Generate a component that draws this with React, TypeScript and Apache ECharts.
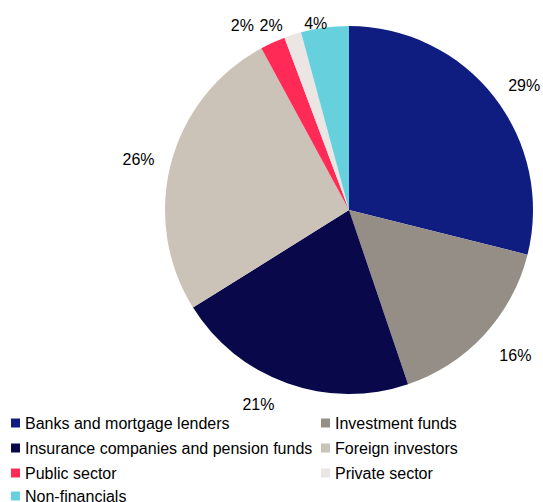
import React, { useEffect, useRef } from "react";
import * as echarts from "echarts";

const categories = [
  "Banks and mortgage lenders",
  "Investment funds",
  "Insurance companies and pension funds",
  "Foreign investors",
  "Public sector",
  "Private sector",
  "Non-financials",
];
const values = [28.9, 15.9, 21.3, 26.0, 2.2, 1.5, 4.2];
const colors = ["#0f1c80", "#958e86", "#08084b", "#cbc3b8", "#ff2a55", "#ebe5e3", "#66d1dd"];

// legend grid: column and row of each category
const legendCol = [0, 1, 0, 1, 0, 1, 0];
const legendRow = [0, 0, 1, 1, 2, 2, 3];

// per-slice label placement tweaks (radial length, horizontal offset)
const labelRadial = [18, 30, 23, 15, 19, 10, 4];
const labelOffset = [0, -7, 5, 2, 11, 7, -3];

const FONT = "'Liberation Sans', Arial, sans-serif";

export default function App() {
  const ref = useRef<HTMLDivElement>(null);
  useEffect(() => {
    if (!ref.current) return;
    const chart = echarts.init(ref.current, undefined, { renderer: "svg" });
    const colLeft = [11, 321];
    const rowTop = [415, 440, 465, 488];
    chart.setOption({
      animation: false,
      color: colors,
      legend: categories.map((name, i) => ({
        orient: "horizontal",
        icon: "rect",
        itemWidth: 9,
        itemHeight: 9,
        padding: 0,
        textStyle: { fontFamily: FONT, fontSize: 16, color: "#000", lineHeight: 16 },
        selectedMode: false,
        left: colLeft[legendCol[i]],
        top: rowTop[legendRow[i]],
        data: [name],
      })),
      series: [
        {
          type: "pie",
          center: [349, 210],
          radius: 184,
          startAngle: 90,
          clockwise: true,
          avoidLabelOverlap: false,
          label: {
            show: true,
            position: "outside",
            fontFamily: FONT,
            fontSize: 16,
            color: "#000",
            formatter: (p: any) => Math.round(p.value) + "%",
          },
          labelLine: { show: false, length: 15, length2: 0 },
          emphasis: { disabled: true },
          data: categories.map((name, i) => ({
            name,
            value: values[i],
            itemStyle: { color: colors[i] },
            label: { distanceToLabelLine: labelOffset[i] },
            labelLine: { show: false, length: labelRadial[i], length2: 0 },
          })),
        },
      ],
    });
    return () => chart.dispose();
  }, []);
  return (
    <div
      ref={ref}
      style={{ position: "fixed", left: 0, top: 0, width: 543, height: 502, background: "#fff" }}
    />
  );
}
